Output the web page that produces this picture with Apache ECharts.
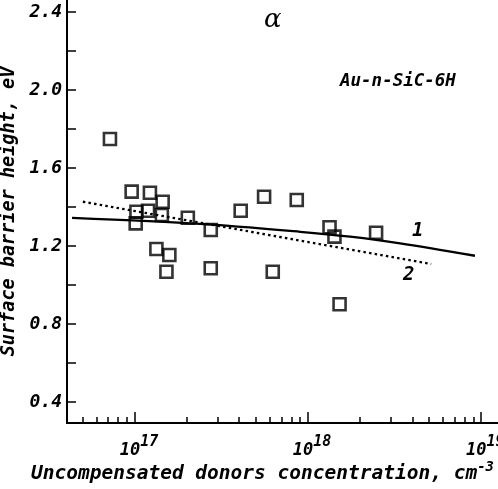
<!DOCTYPE html>
<html>
<head>
<meta charset="utf-8">
<script src="https://cdn.jsdelivr.net/npm/echarts@6/dist/echarts.min.js"></script>
<style>
html,body{margin:0;padding:0;background:#fff;}
#chart{width:498px;height:489px;}
</style>
</head>
<body>
<div id="chart"></div>
<script>
// Data points (concentration cm^-3, barrier height eV)
var pointX = [7.17e16, 9.57e16, 1.22e17, 1.445e17, 1.02e17, 1.01e17, 1.19e17, 1.43e17, 2.02e17, 2.74e17,
              1.33e17, 1.58e17, 1.52e17, 2.74e17, 4.08e17, 5.57e17, 8.6e17, 1.33e18, 1.42e18, 2.47e18,
              6.25e17, 1.52e18];
var pointY = [1.749, 1.479, 1.473, 1.427, 1.376, 1.316, 1.381, 1.359, 1.345, 1.282,
              1.185, 1.154, 1.068, 1.086, 1.381, 1.453, 1.436, 1.296, 1.248, 1.268,
              1.068, 0.901];
// Curve 1 (solid) and curve 2 (dotted)
var line1X = [4.33e16, 2.38e17, 9.0e17, 1.75e18, 3.4e18, 9.2e18];
var line1Y = [1.344, 1.313, 1.273, 1.248, 1.214, 1.150];
var line2X = [5.0e16, 5.14e18];
var line2Y = [1.427, 1.108];
// Axis ticks
var yMajorTicks = [0.4, 0.8, 1.2, 1.6, 2.0, 2.4];
var yMinorTicks = [0.4, 0.6, 0.8, 1.0, 1.2, 1.4, 1.6, 1.8, 2.0, 2.2, 2.4];
var xMajorTicks = [1e17, 1e18, 1e19];
var xMinorTicks = [5e16, 6e16, 7e16, 8e16, 9e16,
                   2e17, 3e17, 4e17, 5e17, 6e17, 7e17, 8e17, 9e17,
                   2e18, 3e18, 4e18, 5e18, 6e18, 7e18, 8e18, 9e18];

function zip(a, b) { return a.map(function (v, i) { return [v, b[i]]; }); }

var FONT = 'DejaVu Sans Mono';
var chart = echarts.init(document.getElementById('chart'), null, {renderer: 'canvas'});
var xMin = 4.05e16, xMax = 1.25e19;
chart.setOption({
  animation: false,
  backgroundColor: '#fff',
  grid: {left: 67, right: 0, top: 0, bottom: 66, containLabel: false, outerBoundsMode: 'none'},
  xAxis: [{
    type: 'log', logBase: 10, min: xMin, max: xMax, position: 'bottom',
    axisLine: {show: true, lineStyle: {color: '#000', width: 2}},
    axisTick: {show: true, inside: true, length: 6, lineStyle: {color: '#000', width: 1.5}, customValues: xMinorTicks},
    axisLabel: {show: false},
    splitLine: {show: false},
    name: 'Uncompensated donors concentration, cm{sup|-3}',
    nameLocation: 'middle', nameGap: 37,
    nameTextStyle: {
      fontFamily: FONT, fontStyle: 'italic', fontWeight: 'bold', fontSize: 19.5, color: '#000',
      padding: [0, 40, 0, 0],
      rich: {sup: {fontFamily: FONT, fontStyle: 'italic', fontWeight: 'bold', fontSize: 14, color: '#000', padding: [0, 0, 14, 0]}}
    }
  }, {
    type: 'log', logBase: 10, min: xMin, max: xMax, position: 'bottom',
    axisLine: {show: false},
    axisTick: {show: true, inside: true, length: 11, lineStyle: {color: '#000', width: 1.5}, customValues: xMajorTicks},
    axisLabel: {
      show: true, margin: 12, customValues: xMajorTicks,
      formatter: function (v) { return '10{sup|' + Math.round(Math.log10(v)) + '}'; },
      fontFamily: FONT, fontStyle: 'italic', fontWeight: 'bold', fontSize: 17, color: '#000',
      padding: [0, 0, 0, 8],
      rich: {sup: {fontFamily: FONT, fontStyle: 'italic', fontWeight: 'bold', fontSize: 15, color: '#000', padding: [0, 0, 16, 0]}}
    },
    splitLine: {show: false}
  }],
  yAxis: {
    type: 'value', min: 0.292, max: 2.462,
    axisLine: {show: true, lineStyle: {color: '#000', width: 2}},
    axisTick: {show: true, inside: true, length: 9, lineStyle: {color: '#000', width: 1.5}, customValues: yMinorTicks},
    axisLabel: {
      show: true, margin: 5, customValues: yMajorTicks,
      formatter: function (v) { return v.toFixed(1); },
      fontFamily: FONT, fontStyle: 'italic', fontWeight: 'bold', fontSize: 18, color: '#000'
    },
    splitLine: {show: false},
    name: 'Surface barrier height, eV',
    nameLocation: 'middle', nameGap: 42,
    nameTextStyle: {fontFamily: FONT, fontStyle: 'italic', fontWeight: 'bold', fontSize: 18.5, color: '#000', padding: [0, 0, 0, 0]}
  },
  series: [{
    type: 'line', data: zip(line1X, line1Y), smooth: 0.3, symbol: 'none',
    lineStyle: {color: '#000', width: 2.3}, z: 2
  }, {
    type: 'line', data: zip(line2X, line2Y), symbol: 'none',
    lineStyle: {color: '#000', width: 2.3, type: [2.5, 3.2]}, z: 2
  }, {
    type: 'scatter', data: zip(pointX, pointY), symbol: 'rect', symbolSize: 12,
    itemStyle: {color: 'rgba(255,255,255,0)', borderColor: '#000', borderWidth: 2.6}, z: 3
  }],
  graphic: [
    {type: 'text', left: 264, top: 7, style: {text: 'α', font: 'italic 26px "DejaVu Serif"', fill: '#000'}},
    {type: 'text', left: 340, top: 72, style: {text: 'Au-n-SiC-6H', font: 'italic bold 17.5px "DejaVu Sans Mono"', fill: '#000'}},
    {type: 'text', left: 412, top: 222, style: {text: '1', font: 'italic bold 19px "DejaVu Sans Mono"', fill: '#000'}},
    {type: 'text', left: 403, top: 266, style: {text: '2', font: 'italic bold 19px "DejaVu Sans Mono"', fill: '#000'}}
  ]
});
</script>
</body>
</html>
